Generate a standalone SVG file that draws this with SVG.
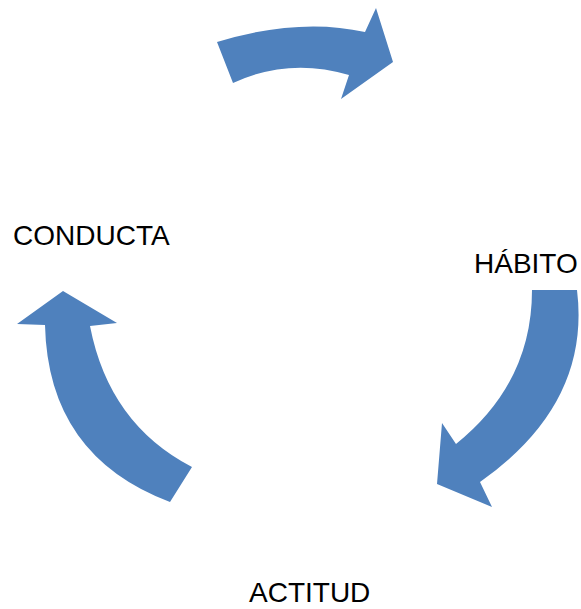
<svg xmlns="http://www.w3.org/2000/svg" width="581" height="609" viewBox="0 0 581 609">
<style>
.arr{fill:#4F81BD;stroke:none}
.lbl{font-family:"Liberation Sans",Arial,sans-serif;font-size:28px;fill:#000}
</style>
<rect width="581" height="609" fill="#fff"/>
<g id="connectors">
<path class="arr" d="M217,42 Q299,17 365,32 L376,8 L393,62 L341,99 L349,75 Q289,57 233,83 Z"/>
<path class="arr" d="M532,290 L577,290 Q591,404 480,482 L492,507 L437,484 L442,423 L456,444 Q532,383 532,290 Z"/>
<path class="arr" d="M63,291 L117,323 L90,326 Q109,424 192,467 L170,502 Q48,456 45,325 L17,324 Z"/>
</g>
<g id="conducta"><text class="lbl" x="13" y="245">CONDUCTA</text></g>
<g id="habito"><text class="lbl" x="474" y="273">HÁBITO</text></g>
<g id="actitud"><text class="lbl" x="249" y="602">ACTITUD</text></g>
</svg>
